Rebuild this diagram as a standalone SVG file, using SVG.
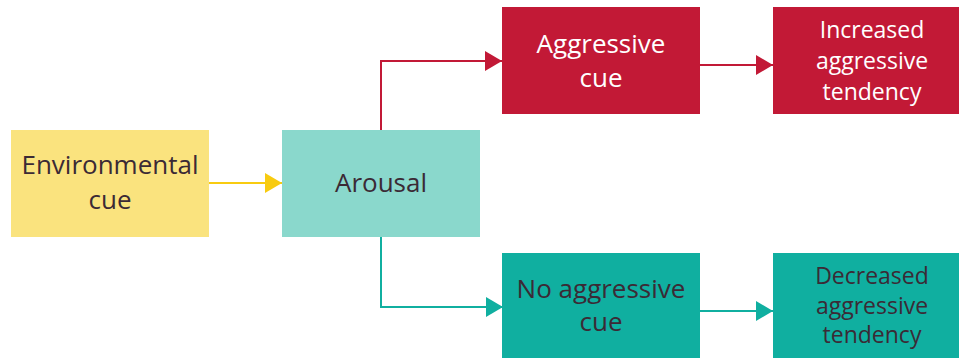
<svg xmlns="http://www.w3.org/2000/svg" width="959" height="358" viewBox="0 0 959 358">
<defs>
<style>
text{font-family:"Open Sans","Noto Sans",sans-serif;font-size:26px;text-anchor:middle}
.sm{font-size:23px}
.dk{fill:#3b2a35}
.wt{fill:#ffffff}
.ln{fill:none;stroke-width:2}
</style>
<marker id="ay" markerWidth="18" markerHeight="20" refX="17" refY="10" orient="auto" markerUnits="userSpaceOnUse"><path d="M0,0 L17,10 L0,20 Z" fill="#F8CB10"/></marker>
<marker id="ar" markerWidth="18" markerHeight="20" refX="17" refY="10" orient="auto" markerUnits="userSpaceOnUse"><path d="M0,0 L17,10 L0,20 Z" fill="#C21936"/></marker>
<marker id="at" markerWidth="18" markerHeight="20" refX="17" refY="10" orient="auto" markerUnits="userSpaceOnUse"><path d="M0,0 L17,10 L0,20 Z" fill="#10AFA0"/></marker>
</defs>
<g id="connectors">
<path class="ln" d="M209,183 H282" stroke="#F8CB10" marker-end="url(#ay)"/>
<path class="ln" d="M381,130 V61 H502" stroke="#C21936" marker-end="url(#ar)"/>
<path class="ln" d="M700,65 H773" stroke="#C21936" marker-end="url(#ar)"/>
<path class="ln" d="M381,237 V307 H503" stroke="#10AFA0" marker-end="url(#at)"/>
<path class="ln" d="M700,311 H773" stroke="#10AFA0" marker-end="url(#at)"/>
</g>
<g id="environmental">
<rect x="11" y="130" width="198" height="107" fill="#FAE37E"/>
<text class="dk" x="110" y="174">Environmental</text>
<text class="dk" x="110" y="209">cue</text>
</g>
<g id="arousal">
<rect x="282" y="130" width="198" height="107" fill="#8AD8CC"/>
<text class="dk" x="381" y="192">Arousal</text>
</g>
<g id="aggressive">
<rect x="502" y="7" width="198" height="107" fill="#C21936"/>
<text class="wt" x="601" y="53">Aggressive</text>
<text class="wt" x="601" y="87">cue</text>
</g>
<g id="increased">
<rect x="773" y="7" width="198" height="107" fill="#C21936"/>
<text class="wt sm" x="872" y="38">Increased</text>
<text class="wt sm" x="872" y="69">aggressive</text>
<text class="wt sm" x="872" y="100">tendency</text>
</g>
<g id="noaggressive">
<rect x="502" y="253" width="198" height="107" fill="#10AFA0"/>
<text class="dk" x="601" y="298">No aggressive</text>
<text class="dk" x="601" y="331">cue</text>
</g>
<g id="decreased">
<rect x="773" y="253" width="198" height="107" fill="#10AFA0"/>
<text class="dk sm" x="872" y="284">Decreased</text>
<text class="dk sm" x="872" y="314">aggressive</text>
<text class="dk sm" x="872" y="343">tendency</text>
</g>
</svg>
